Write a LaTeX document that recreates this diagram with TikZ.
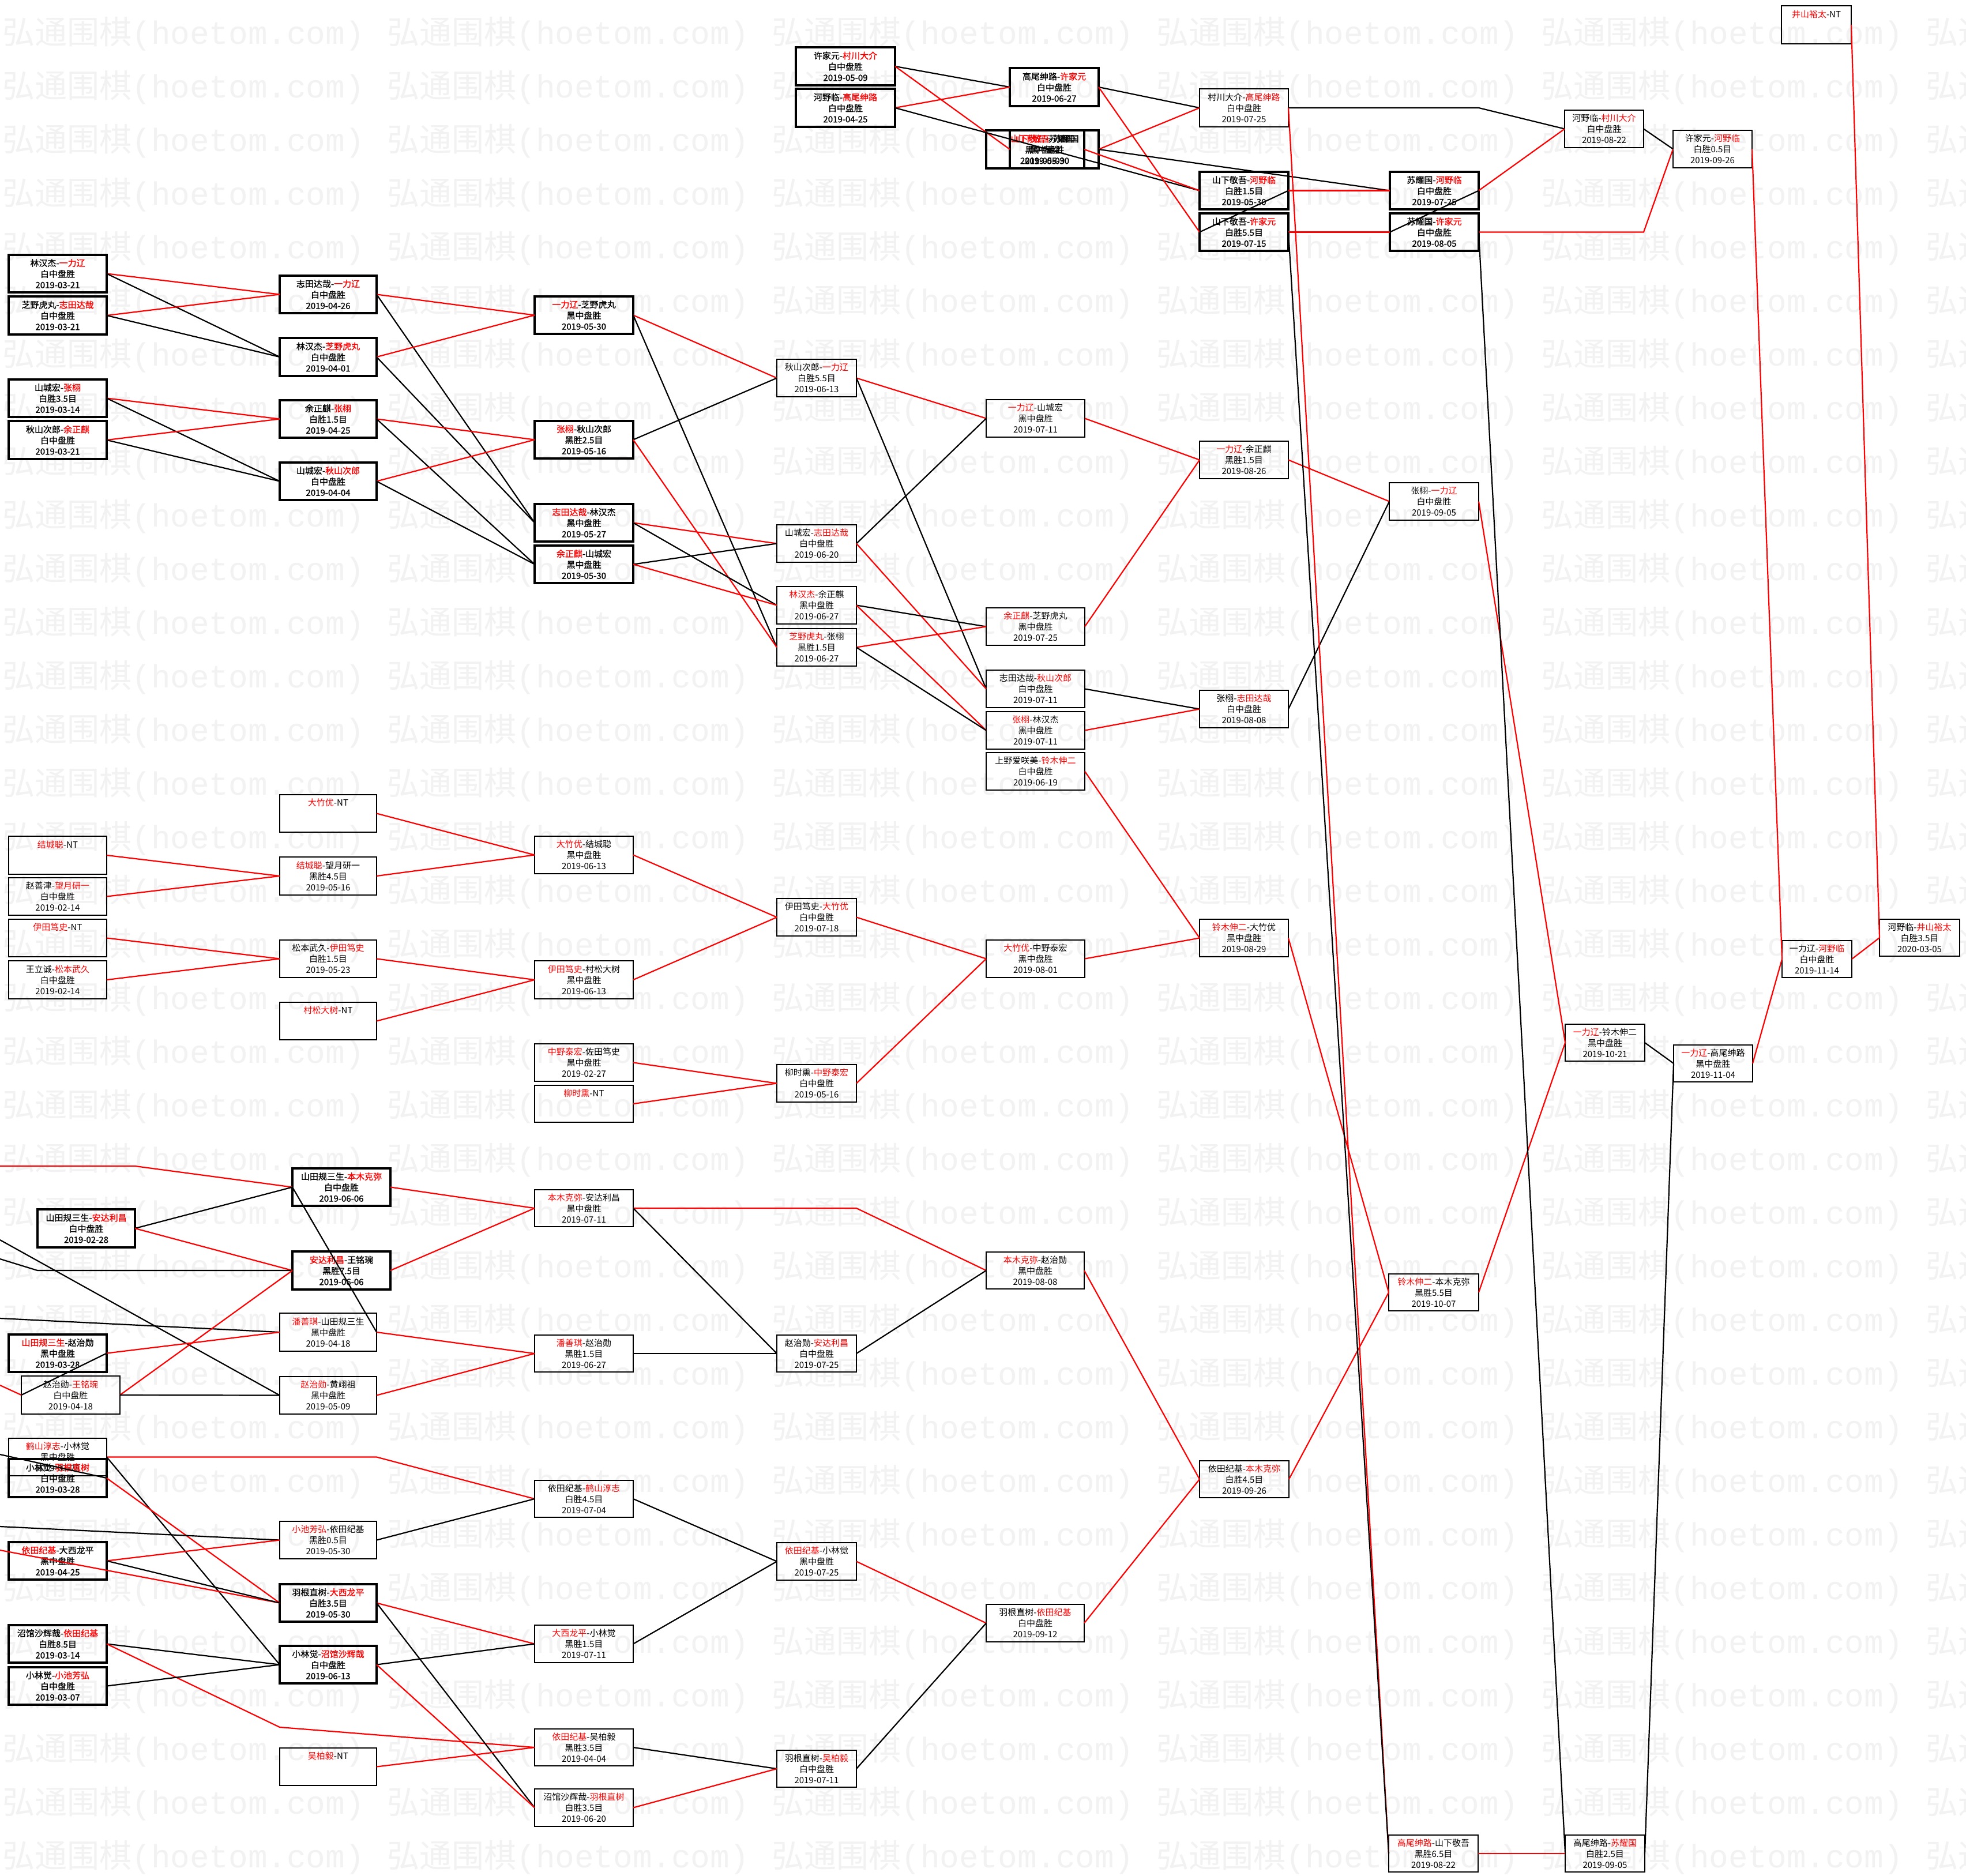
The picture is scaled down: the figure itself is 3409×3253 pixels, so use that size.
\documentclass[tikz,border=0pt]{standalone}
\usepackage{fontspec}
\newfontfamily\cjk{Noto Sans CJK SC}
\newfontfamily\cjkb[FakeBold=1.2]{Noto Sans CJK SC}
\newfontfamily\wmmono{Liberation Mono}
\newcommand\rd[1]{\textcolor{red}{#1}}
\newcommand\tx[3]{#1\\#2\\#3}
\newcommand\ntx[1]{#1\\~\\~}
\newcommand\gbox[6]{%
 \pgfmathsetmacro\gw{(#4-#2)*0.5}%
 \pgfmathsetmacro\gh{(#5-#3)*0.5}%
 \node[#6,minimum width=\gw pt,minimum height=\gh pt] (#1) at ({(#2+#4)/2},{(#3+#5)/2})}
\tikzset{
 bx/.style={draw, inner sep=0pt, outer sep=0pt, align=center, line width=1pt,
   font=\cjk\fontsize{7.5}{9.5}\selectfont},
 thn/.style={bx},
 thk/.style={bx, line width=1.6pt, font=\cjkb\fontsize{7.5}{9.5}\selectfont},
 rl/.style={draw=red, line width=1.1pt},
 bl/.style={draw=black, line width=1.1pt},
 wm/.style={anchor=west, inner sep=0pt, text=black!5, font=\fontsize{28}{28}\selectfont}
}
\begin{document}
\begin{tikzpicture}[x=0.5pt,y=-0.5pt]
\useasboundingbox (0,0) rectangle (3409,3253);
\fill[white] (0,0) rectangle (3409,3253);
\begin{scope}
\clip (0,0) rectangle (3409,3253);
\foreach \i in {0,...,34}{\foreach \j in {0,...,5}{
 \node[wm] (wm-\i-\j) at ({4+667*\j},{58.7+93*\i}) {{\cjk 弘通围棋}{\wmmono (hoetom.com)}};
}}
\end{scope}

% ---------- top-left group
\gbox{A1}{15}{442}{185}{507}{thk}{\tx{林汉杰-\rd{一力辽}}{白中盘胜}{2019-03-21}};
\gbox{A2}{15}{514}{185}{580}{thk}{\tx{芝野虎丸-\rd{志田达哉}}{白中盘胜}{2019-03-21}};
\gbox{A3}{15}{658}{185}{723}{thk}{\tx{山城宏-\rd{张栩}}{白胜3.5目}{2019-03-14}};
\gbox{A4}{15}{730}{185}{796}{thk}{\tx{秋山次郎-\rd{余正麒}}{白中盘胜}{2019-03-21}};
\gbox{B1}{485}{478}{653}{543}{thk}{\tx{志田达哉-\rd{一力辽}}{白中盘胜}{2019-04-26}};
\gbox{B2}{485}{586}{653}{652}{thk}{\tx{林汉杰-\rd{芝野虎丸}}{白中盘胜}{2019-04-01}};
\gbox{B3}{485}{694}{653}{759}{thk}{\tx{余正麒-\rd{张栩}}{白胜1.5目}{2019-04-25}};
\gbox{B4}{485}{802}{653}{867}{thk}{\tx{山城宏-\rd{秋山次郎}}{白中盘胜}{2019-04-04}};
\gbox{C1}{927}{514}{1098}{579}{thk}{\tx{\rd{一力辽}-芝野虎丸}{黑中盘胜}{2019-05-30}};
\gbox{C2}{927}{730}{1098}{795}{thk}{\tx{\rd{张栩}-秋山次郎}{黑胜2.5目}{2019-05-16}};
\gbox{C3}{927}{874}{1098}{939}{thk}{\tx{\rd{志田达哉}-林汉杰}{黑中盘胜}{2019-05-27}};
\gbox{C4}{927}{946}{1098}{1011}{thk}{\tx{\rd{余正麒}-山城宏}{黑中盘胜}{2019-05-30}};
\gbox{D1}{1347}{623}{1485}{688}{thn}{\tx{秋山次郎-\rd{一力辽}}{白胜5.5目}{2019-06-13}};
\gbox{D2}{1347}{910}{1485}{975}{thn}{\tx{山城宏-\rd{志田达哉}}{白中盘胜}{2019-06-20}};
\gbox{D3}{1347}{1017}{1485}{1082}{thn}{\tx{\rd{林汉杰}-余正麒}{黑中盘胜}{2019-06-27}};
\gbox{D4}{1347}{1090}{1485}{1155}{thn}{\tx{\rd{芝野虎丸}-张栩}{黑胜1.5目}{2019-06-27}};
\gbox{E1}{1710}{693}{1881}{758}{thn}{\tx{\rd{一力辽}-山城宏}{黑中盘胜}{2019-07-11}};
\gbox{E2}{1710}{1054}{1881}{1119}{thn}{\tx{\rd{余正麒}-芝野虎丸}{黑中盘胜}{2019-07-25}};
\gbox{E3}{1710}{1162}{1881}{1227}{thn}{\tx{志田达哉-\rd{秋山次郎}}{白中盘胜}{2019-07-11}};
\gbox{E4}{1710}{1234}{1881}{1299}{thn}{\tx{\rd{张栩}-林汉杰}{黑中盘胜}{2019-07-11}};
\gbox{E5}{1710}{1305}{1881}{1370}{thn}{\tx{上野爱咲美-\rd{铃木伸二}}{白中盘胜}{2019-06-19}};
\gbox{F1}{2080}{765}{2234}{830}{thn}{\tx{\rd{一力辽}-余正麒}{黑胜1.5目}{2019-08-26}};
\gbox{F2}{2080}{1197}{2234}{1262}{thn}{\tx{张栩-\rd{志田达哉}}{白中盘胜}{2019-08-08}};
\gbox{G1}{2409}{837}{2564}{902}{thn}{\tx{张栩-\rd{一力辽}}{白中盘胜}{2019-09-05}};

% ---------- middle group
\gbox{A5}{15}{1450}{185}{1516}{thn}{\ntx{\rd{结城聪}-NT}};
\gbox{A6}{15}{1522}{185}{1587}{thn}{\tx{赵善津-\rd{望月研一}}{白中盘胜}{2019-02-14}};
\gbox{A7}{15}{1594}{185}{1659}{thn}{\ntx{\rd{伊田笃史}-NT}};
\gbox{A8}{15}{1666}{185}{1732}{thn}{\tx{王立诚-\rd{松本武久}}{白中盘胜}{2019-02-14}};
\gbox{B5}{485}{1378}{653}{1443}{thn}{\ntx{\rd{大竹优}-NT}};
\gbox{B6}{485}{1486}{653}{1552}{thn}{\tx{\rd{结城聪}-望月研一}{黑胜4.5目}{2019-05-16}};
\gbox{B7}{485}{1630}{653}{1695}{thn}{\tx{松本武久-\rd{伊田笃史}}{白胜1.5目}{2019-05-23}};
\gbox{B8}{485}{1738}{653}{1803}{thn}{\ntx{\rd{村松大树}-NT}};
\gbox{C5}{927}{1450}{1098}{1515}{thn}{\tx{\rd{大竹优}-结城聪}{黑中盘胜}{2019-06-13}};
\gbox{C6}{927}{1666}{1098}{1732}{thn}{\tx{\rd{伊田笃史}-村松大树}{黑中盘胜}{2019-06-13}};
\gbox{C7}{927}{1810}{1098}{1875}{thn}{\tx{\rd{中野泰宏}-佐田笃史}{黑中盘胜}{2019-02-27}};
\gbox{C8}{927}{1882}{1098}{1946}{thn}{\ntx{\rd{柳时熏}-NT}};
\gbox{D5}{1347}{1558}{1485}{1623}{thn}{\tx{伊田笃史-\rd{大竹优}}{白中盘胜}{2019-07-18}};
\gbox{D6}{1347}{1846}{1485}{1911}{thn}{\tx{柳时熏-\rd{中野泰宏}}{白中盘胜}{2019-05-16}};
\gbox{E6}{1710}{1630}{1881}{1695}{thn}{\tx{\rd{大竹优}-中野泰宏}{黑中盘胜}{2019-08-01}};
\gbox{F3}{2080}{1594}{2234}{1659}{thn}{\tx{\rd{铃木伸二}-大竹优}{黑中盘胜}{2019-08-29}};

% ---------- lower group
\gbox{X1}{65}{2097}{234}{2163}{thk}{\tx{山田规三生-\rd{安达利昌}}{白中盘胜}{2019-02-28}};
\gbox{B9}{507}{2026}{677}{2091}{thk}{\tx{山田规三生-\rd{本木克弥}}{白中盘胜}{2019-06-06}};
\gbox{B10}{507}{2170}{677}{2236}{thk}{\tx{\rd{安达利昌}-王铭琬}{黑胜7.5目}{2019-06-06}};
\gbox{B11}{485}{2277}{653}{2343}{thn}{\tx{\rd{潘善琪}-山田规三生}{黑中盘胜}{2019-04-18}};
\gbox{A9}{15}{2314}{185}{2379}{thk}{\tx{\rd{山田规三生}-赵治勋}{黑中盘胜}{2019-03-28}};
\gbox{A10}{37}{2386}{208}{2452}{thn}{\tx{赵治勋-\rd{王铭琬}}{白中盘胜}{2019-04-18}};
\gbox{B12}{485}{2387}{653}{2452}{thn}{\tx{\rd{赵治勋}-黄翊祖}{黑中盘胜}{2019-05-09}};
\gbox{C9}{927}{2063}{1098}{2127}{thn}{\tx{\rd{本木克弥}-安达利昌}{黑中盘胜}{2019-07-11}};
\gbox{C10}{927}{2315}{1098}{2379}{thn}{\tx{\rd{潘善琪}-赵治勋}{黑胜1.5目}{2019-06-27}};
\gbox{D7}{1347}{2315}{1485}{2379}{thn}{\tx{赵治勋-\rd{安达利昌}}{白中盘胜}{2019-07-25}};
\gbox{E7}{1710}{2171}{1880}{2235}{thn}{\tx{\rd{本木克弥}-赵治勋}{黑中盘胜}{2019-08-08}};
\gbox{F4}{2080}{2533}{2235}{2597}{thn}{\tx{依田纪基-\rd{本木克弥}}{白胜4.5目}{2019-09-26}};
\gbox{G2}{2408}{2209}{2564}{2273}{thn}{\tx{\rd{铃木伸二}-本木克弥}{黑胜5.5目}{2019-10-07}};

% ---------- bottom group
\gbox{A11}{15}{2494}{185}{2559}{thn}{\tx{\rd{鹤山淳志}-小林觉}{黑中盘胜}{2019-03-28}};
\gbox{A12}{15}{2530}{185}{2596}{thk}{\tx{小林觉-\rd{羽根直树}}{白中盘胜}{2019-03-28}};
\gbox{A13}{15}{2674}{185}{2739}{thk}{\tx{\rd{依田纪基}-大西龙平}{黑中盘胜}{2019-04-25}};
\gbox{A14}{15}{2818}{185}{2883}{thk}{\tx{沼馆沙辉哉-\rd{依田纪基}}{白胜8.5目}{2019-03-14}};
\gbox{A15}{15}{2891}{185}{2956}{thk}{\tx{小林觉-\rd{小池芳弘}}{白中盘胜}{2019-03-07}};
\gbox{B13}{485}{2638}{653}{2703}{thn}{\tx{\rd{小池芳弘}-依田纪基}{黑胜0.5目}{2019-05-30}};
\gbox{B14}{485}{2747}{653}{2812}{thk}{\tx{羽根直树-\rd{大西龙平}}{白胜3.5目}{2019-05-30}};
\gbox{B15}{485}{2854}{653}{2919}{thk}{\tx{小林觉-\rd{沼馆沙辉哉}}{白中盘胜}{2019-06-13}};
\gbox{B16}{485}{3031}{653}{3096}{thn}{\ntx{\rd{吴柏毅}-NT}};
\gbox{C11}{927}{2567}{1098}{2631}{thn}{\tx{依田纪基-\rd{鹤山淳志}}{白胜4.5目}{2019-07-04}};
\gbox{C12}{927}{2818}{1098}{2883}{thn}{\tx{\rd{大西龙平}-小林觉}{黑胜1.5目}{2019-07-11}};
\gbox{C13}{927}{2998}{1098}{3062}{thn}{\tx{\rd{依田纪基}-吴柏毅}{黑胜3.5目}{2019-04-04}};
\gbox{C14}{927}{3102}{1098}{3167}{thn}{\tx{沼馆沙辉哉-\rd{羽根直树}}{白胜3.5目}{2019-06-20}};
\gbox{D8}{1347}{2675}{1485}{2740}{thn}{\tx{\rd{依田纪基}-小林觉}{黑中盘胜}{2019-07-25}};
\gbox{D9}{1347}{3035}{1485}{3099}{thn}{\tx{羽根直树-\rd{吴柏毅}}{白中盘胜}{2019-07-11}};
\gbox{E8}{1710}{2782}{1880}{2847}{thn}{\tx{羽根直树-\rd{依田纪基}}{白中盘胜}{2019-09-12}};

% ---------- top group
\gbox{T1}{1380}{82}{1552}{148}{thk}{\tx{许家元-\rd{村川大介}}{白中盘胜}{2019-05-09}};
\gbox{T2}{1380}{154}{1552}{220}{thk}{\tx{河野临-\rd{高尾绅路}}{白中盘胜}{2019-04-25}};
\gbox{T3}{1751}{118}{1905}{184}{thk}{\tx{高尾绅路-\rd{许家元}}{白中盘胜}{2019-06-27}};
\gbox{T4}{1710}{226}{1905}{292}{thk}{\tx{\rd{山下敬吾}-苏耀国}{黑中盘胜}{2019-05-09}};
\gbox{T5}{1751}{226}{1880}{292}{thk}{\tx{\rd{山下敬吾}-苏耀国}{黑中盘胜}{2019-05-30}};
\gbox{K0}{2080}{154}{2234}{220}{thn}{\tx{村川大介-\rd{高尾绅路}}{白中盘胜}{2019-07-25}};
\gbox{K1}{2080}{298}{2234}{363}{thk}{\tx{山下敬吾-\rd{河野临}}{白胜1.5目}{2019-05-30}};
\gbox{K2}{2080}{370}{2234}{435}{thk}{\tx{山下敬吾-\rd{许家元}}{白胜5.5目}{2019-07-15}};
\gbox{L1}{2410}{298}{2564}{363}{thk}{\tx{苏耀国-\rd{河野临}}{白中盘胜}{2019-07-25}};
\gbox{L2}{2410}{370}{2564}{435}{thk}{\tx{苏耀国-\rd{许家元}}{白中盘胜}{2019-08-05}};
\gbox{M1}{2713}{191}{2850}{256}{thn}{\tx{河野临-\rd{村川大介}}{白中盘胜}{2019-08-22}};
\gbox{M2}{2901}{226}{3038}{291}{thn}{\tx{许家元-\rd{河野临}}{白胜0.5目}{2019-09-26}};
\gbox{P0}{3089}{10}{3210}{76}{thn}{\ntx{\rd{井山裕太}-NT}};

% ---------- right group
\gbox{H1}{2714}{1776}{2852}{1840}{thn}{\tx{\rd{一力辽}-铃木伸二}{黑中盘胜}{2019-10-21}};
\gbox{I1}{2902}{1812}{3039}{1876}{thn}{\tx{\rd{一力辽}-高尾绅路}{黑中盘胜}{2019-11-04}};
\gbox{Q1}{3090}{1631}{3211}{1695}{thn}{\tx{一力辽-\rd{河野临}}{白中盘胜}{2019-11-14}};
\gbox{R1}{3259}{1594}{3398}{1658}{thn}{\tx{河野临-\rd{井山裕太}}{白胜3.5目}{2020-03-05}};
\gbox{G3}{2408}{3182}{2563}{3246}{thn}{\tx{\rd{高尾绅路}-山下敬吾}{黑胜6.5目}{2019-08-22}};
\gbox{H2}{2714}{3182}{2852}{3246}{thn}{\tx{高尾绅路-\rd{苏耀国}}{白胜2.5目}{2019-09-05}};

% ---------- free ends at the left edge
\coordinate (o1) at (0,2022);
\coordinate (o2) at (0,2150);
\coordinate (o3) at (0,2183);
\coordinate (o4) at (0,2286);
\coordinate (o5) at (0,2402);
\coordinate (o6) at (0,2522);
\coordinate (o7) at (0,2647);
\coordinate (o8) at (0,2688);
\coordinate (k14) at (485,2995);

% ---------- connectors: top-left
\draw[rl] (A1.east) -- (B1.west);
\draw[bl] (A1.east) -- (B2.west);
\draw[rl] (A2.east) -- (B1.west);
\draw[bl] (A2.east) -- (B2.west);
\draw[rl] (A3.east) -- (B3.west);
\draw[bl] (A3.east) -- (B4.west);
\draw[rl] (A4.east) -- (B3.west);
\draw[bl] (A4.east) -- (B4.west);
\draw[rl] (B1.east) -- (C1.west);
\draw[bl] (B1.east) -- (C3.west);
\draw[rl] (B2.east) -- (C1.west);
\draw[bl] (B2.east) -- (C3.west);
\draw[rl] (B3.east) -- (C2.west);
\draw[bl] (B3.east) -- (C4.west);
\draw[rl] (B4.east) -- (C2.west);
\draw[bl] (B4.east) -- (C4.west);
\draw[rl] (C1.east) -- (D1.west);
\draw[bl] (C1.east) -- (D4.west);
\draw[bl] (C2.east) -- (D1.west);
\draw[rl] (C2.east) -- (D4.west);
\draw[rl] (C3.east) -- (D2.west);
\draw[bl] (C3.east) -- (D3.west);
\draw[bl] (C4.east) -- (D2.west);
\draw[rl] (C4.east) -- (D3.west);
\draw[rl] (D1.east) -- (E1.west);
\draw[bl] (D1.east) -- (E3.west);
\draw[bl] (D2.east) -- (E1.west);
\draw[rl] (D2.east) -- (E3.west);
\draw[bl] (D3.east) -- (E2.west);
\draw[rl] (D3.east) -- (E4.west);
\draw[rl] (D4.east) -- (E2.west);
\draw[bl] (D4.east) -- (E4.west);
\draw[rl] (E1.east) -- (F1.west);
\draw[rl] (E2.east) -- (F1.west);
\draw[bl] (E3.east) -- (F2.west);
\draw[rl] (E4.east) -- (F2.west);
\draw[rl] (F1.east) -- (G1.west);
\draw[bl] (F2.east) -- (G1.west);
\draw[rl] (G1.east) -- (H1.west);
\draw[rl] (E5.east) -- (F3.west);

% ---------- connectors: middle
\draw[rl] (A5.east) -- (B6.west);
\draw[rl] (A6.east) -- (B6.west);
\draw[rl] (A7.east) -- (B7.west);
\draw[rl] (A8.east) -- (B7.west);
\draw[rl] (B5.east) -- (C5.west);
\draw[rl] (B6.east) -- (C5.west);
\draw[rl] (B7.east) -- (C6.west);
\draw[rl] (B8.east) -- (C6.west);
\draw[rl] (C5.east) -- (D5.west);
\draw[rl] (C6.east) -- (D5.west);
\draw[rl] (C7.east) -- (D6.west);
\draw[rl] (C8.east) -- (D6.west);
\draw[rl] (D5.east) -- (E6.west);
\draw[rl] (D6.east) -- (E6.west);
\draw[rl] (E6.east) -- (F3.west);
\draw[rl] (F3.east) -- (G2.west);

% ---------- connectors: lower
\draw[rl] (o1) -- (o1 -| X1.east) -- (B9.west);
\draw[bl] (X1.east) -- (B9.west);
\draw[rl] (X1.east) -- (B10.west);
\draw[bl] (o3) -- (X1.west |- B10.west) -- (B10.west);
\draw[bl] (o2) -- (B12.west);
\draw[bl] (o4) -- (B11.west);
\draw[rl] (A9.east) -- (B11.west);
\draw[bl] (B11.east) -- (B9.west);
\draw[rl] (o5) -- (A10.west);
\draw[bl] (A10.west) -- (A9.east);
\draw[rl] (A10.east) -- (B10.west);
\draw[bl] (A10.east) -- (B12.west);
\draw[rl] (B9.east) -- (C9.west);
\draw[rl] (B10.east) -- (C9.west);
\draw[rl] (B11.east) -- (C10.west);
\draw[rl] (B12.east) -- (C10.west);
\draw[rl] (C9.east) -- (C9.east -| D7.east) -- (E7.west);
\draw[bl] (C9.east) -- (D7.west);
\draw[bl] (C10.east) -- (D7.west);
\draw[bl] (D7.east) -- (E7.west);
\draw[rl] (E7.east) -- (F4.west);
\draw[rl] (E8.east) -- (F4.west);
\draw[rl] (F4.east) -- (G2.west);
\draw[rl] (G2.east) -- (H1.west);

% ---------- connectors: bottom
\draw[rl] (A11.east) -- (A11.east -| B13.east) -- (C11.west);
\draw[bl] (A11.east) -- (B15.west);
\draw[bl] (o6) -- (A12.east);
\draw[rl] (A12.east) -- (B14.west);
\draw[bl] (o7) -- (B13.west);
\draw[rl] (o8) -- (B14.west);
\draw[rl] (A13.east) -- (B13.west);
\draw[bl] (A13.east) -- (B14.west);
\draw[bl] (A14.east) -- (B15.west);
\draw[rl] (A14.east) -- (k14) -- (C13.west);
\draw[bl] (A15.east) -- (B15.west);
\draw[bl] (B13.east) -- (C11.west);
\draw[rl] (B14.east) -- (C12.west);
\draw[bl] (B14.east) -- (C14.west);
\draw[bl] (B15.east) -- (C12.west);
\draw[rl] (B15.east) -- (C14.west);
\draw[rl] (B16.east) -- (C13.west);
\draw[bl] (C11.east) -- (D8.west);
\draw[bl] (C12.east) -- (D8.west);
\draw[bl] (C13.east) -- (D9.west);
\draw[rl] (C14.east) -- (D9.west);
\draw[rl] (D8.east) -- (E8.west);
\draw[bl] (D9.east) -- (E8.west);

% ---------- connectors: top
\draw[bl] (T1.east) -- (T3.west);
\draw[rl] (T1.east) -- (T5.west);
\draw[rl] (T2.east) -- (T3.west);
\draw[bl] (T2.east) -- (K1.west);
\draw[bl] (T3.east) -- (K0.west);
\draw[rl] (T3.east) -- (K2.west);
\draw[rl] (T4.east) -- (K0.west);
\draw[bl] (T4.east) -- (L1.west);
\draw[rl] (T5.east) -- (K1.west);
\draw[bl] (K0.east) -- (K0.east -| L1.east) -- (M1.west);
\draw[rl] (K0.east) -- (G3.west);
\draw[rl] (K1.east) -- (L1.west);
\draw[bl] (K1.east) -- (K2.west);
\draw[rl] (K2.east) -- (L2.west);
\draw[bl] (K2.east) -- (G3.west);
\draw[rl] (L1.east) -- (M1.west);
\draw[bl] (L1.east) -- (L2.west);
\draw[rl] (L2.east) -- (L2.east -| M1.east) -- (M2.west);
\draw[bl] (L2.east) -- (H2.west);
\draw[bl] (M1.east) -- (M2.west);
\draw[rl] (M2.east) -- (Q1.west);

% ---------- connectors: right
\draw[bl] (H1.east) -- (I1.west);
\draw[rl] (G3.east) -- (H2.west);
\draw[bl] (H2.east) -- (I1.west);
\draw[rl] (I1.east) -- (Q1.west);
\draw[rl] (Q1.east) -- (R1.west);
\draw[rl] (P0.east) -- (R1.west);
\end{tikzpicture}
\end{document}
